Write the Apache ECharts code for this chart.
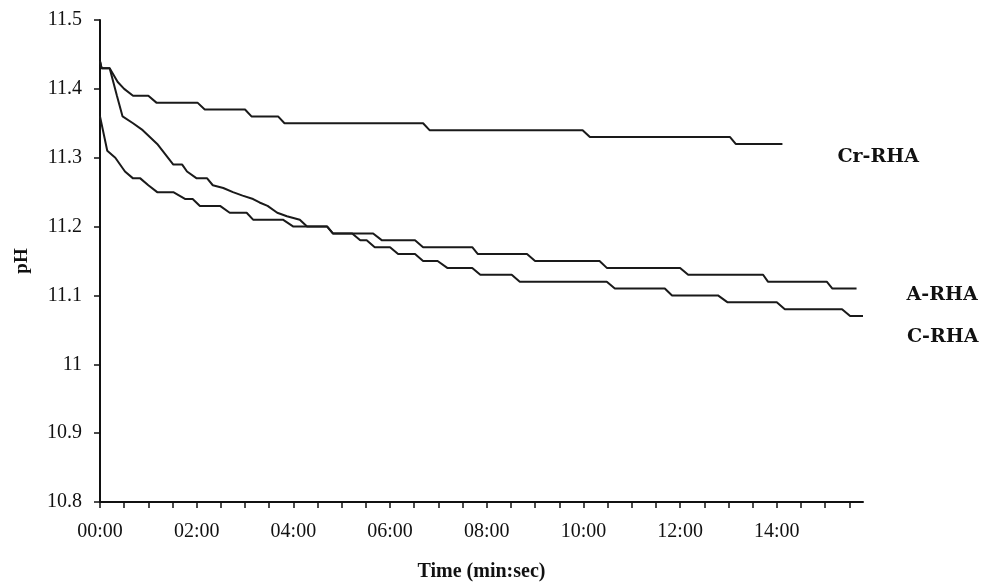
<!DOCTYPE html>
<html>
<head>
<meta charset="utf-8">
<script src="https://cdn.jsdelivr.net/npm/echarts@6/dist/echarts.min.js"></script>
<style>
  html, body { margin: 0; padding: 0; background: #fff; }
  #chart { width: 981px; height: 585px; }
</style>
</head>
<body>
<div id="chart"></div>
<script>
// time in seconds, pH
var crTime = [0, 2, 12, 22, 30, 41, 60, 70, 121, 130, 180, 188, 221, 229, 401, 409, 599, 608, 782, 789, 847];
var crPH   = [11.44, 11.43, 11.43, 11.41, 11.40, 11.39, 11.39, 11.38, 11.38, 11.37, 11.37, 11.36, 11.36, 11.35, 11.35, 11.34, 11.34, 11.33, 11.33, 11.32, 11.32];

var aTime = [0, 9, 19, 31, 41, 50, 60, 71, 91, 106, 115, 124, 149, 161, 182, 190, 227, 240, 282, 289, 339, 350, 391, 401, 462, 469, 530, 540, 620, 629, 720, 730, 823, 829, 902, 909, 939];
var aPH   = [11.36, 11.31, 11.30, 11.28, 11.27, 11.27, 11.26, 11.25, 11.25, 11.24, 11.24, 11.23, 11.23, 11.22, 11.22, 11.21, 11.21, 11.20, 11.20, 11.19, 11.19, 11.18, 11.18, 11.17, 11.17, 11.16, 11.16, 11.15, 11.15, 11.14, 11.14, 11.13, 11.13, 11.12, 11.12, 11.11, 11.11];

var cTime = [0, 2, 12, 21, 28, 41, 53, 71, 91, 102, 108, 120, 133, 140, 153, 165, 177, 190, 198, 208, 220, 232, 248, 257, 282, 289, 313, 323, 331, 341, 360, 370, 391, 401, 419, 431, 462, 472, 511, 521, 629, 639, 701, 710, 767, 779, 840, 850, 921, 931, 947];
var cPH   = [11.44, 11.43, 11.43, 11.39, 11.36, 11.35, 11.34, 11.32, 11.29, 11.29, 11.28, 11.27, 11.27, 11.26, 11.256, 11.25, 11.245, 11.24, 11.235, 11.23, 11.22, 11.215, 11.21, 11.20, 11.20, 11.19, 11.19, 11.18, 11.18, 11.17, 11.17, 11.16, 11.16, 11.15, 11.15, 11.14, 11.14, 11.13, 11.13, 11.12, 11.12, 11.11, 11.11, 11.10, 11.10, 11.09, 11.09, 11.08, 11.08, 11.07, 11.07];

var labelTimes = [0, 120, 240, 360, 480, 600, 720, 840];
var tickTimes = [0, 30, 60, 90, 120, 150, 180, 210, 240, 270, 300, 330, 360, 390, 420, 450, 480, 510, 540, 570, 600, 630, 660, 690, 720, 750, 780, 810, 840, 870, 900, 930];

function pairs(t, v) {
  return t.map(function (x, i) { return [x, v[i]]; });
}
function mmss(s) {
  var m = Math.floor(s / 60), r = s % 60;
  return (m < 10 ? '0' : '') + m + ':' + (r < 10 ? '0' : '') + r;
}

var chart = echarts.init(document.getElementById('chart'));
var lineStyle = { color: '#1a1a1a', width: 2 };
var endLabelFont = { fontFamily: 'DejaVu Serif', fontWeight: 'bold', fontSize: 19, color: '#111' };

chart.setOption({
  animation: false,
  backgroundColor: '#fff',
  grid: { left: 100, right: 118, top: 20, bottom: 83, containLabel: false, outerBoundsMode: 'none' },
  xAxis: {
    type: 'value',
    min: 0,
    max: 947,
    name: 'Time (min:sec)',
    nameLocation: 'middle',
    nameGap: 60,
    nameTextStyle: { fontFamily: 'Liberation Serif', fontWeight: 'bold', fontSize: 20, color: '#111' },
    axisLine: { show: true, lineStyle: { color: '#111', width: 2 } },
    axisTick: { show: true, customValues: tickTimes, length: 6, lineStyle: { color: '#111', width: 1.5 } },
    axisLabel: {
      customValues: labelTimes,
      formatter: function (v) { return mmss(v); },
      fontFamily: 'Liberation Serif', fontSize: 20, color: '#111', margin: 20
    },
    splitLine: { show: false }
  },
  yAxis: {
    type: 'value',
    min: 10.8,
    max: 11.5,
    interval: 0.1,
    name: 'pH',
    nameLocation: 'middle',
    nameGap: 68,
    nameTextStyle: { fontFamily: 'Liberation Serif', fontWeight: 'bold', fontSize: 19, color: '#111' },
    axisLine: { show: true, lineStyle: { color: '#111', width: 2 } },
    axisTick: { show: true, length: 6, lineStyle: { color: '#111', width: 1.5 } },
    axisLabel: { fontFamily: 'Liberation Serif', fontSize: 20, color: '#111', margin: 18 },
    splitLine: { show: false }
  },
  series: [
    {
      name: 'Cr-RHA', type: 'line', showSymbol: false, symbol: 'none',
      data: pairs(crTime, crPH), lineStyle: lineStyle,
      endLabel: Object.assign({ show: true, formatter: '{a}', distance: 55, offset: [0, 13] }, endLabelFont)
    },
    {
      name: 'A-RHA', type: 'line', showSymbol: false, symbol: 'none',
      data: pairs(aTime, aPH), lineStyle: lineStyle,
      endLabel: Object.assign({ show: true, formatter: '{a}', distance: 50, offset: [0, 7] }, endLabelFont)
    },
    {
      name: 'C-RHA', type: 'line', showSymbol: false, symbol: 'none',
      data: pairs(cTime, cPH), lineStyle: lineStyle,
      endLabel: Object.assign({ show: true, formatter: '{a}', distance: 44, offset: [0, 21] }, endLabelFont)
    }
  ]
});
</script>
</body>
</html>
